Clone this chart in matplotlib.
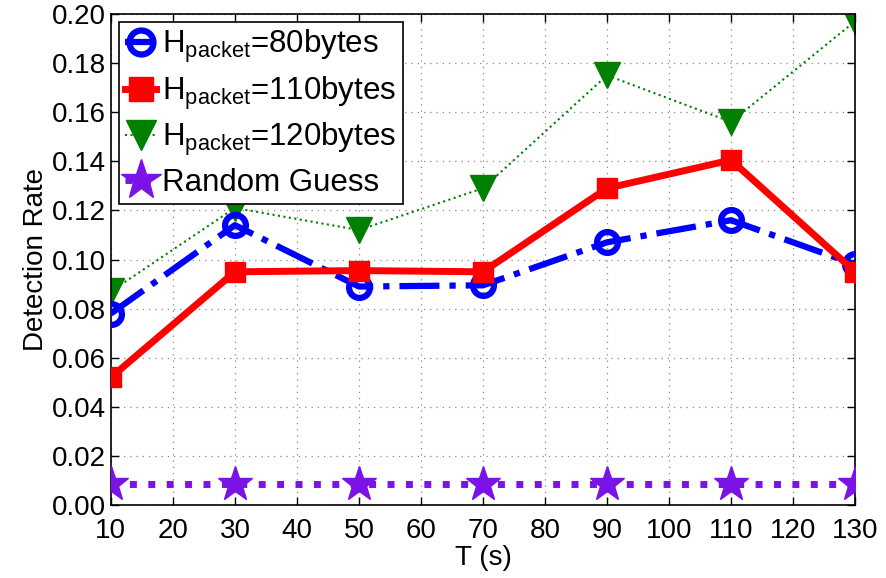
import matplotlib.pyplot as plt
import numpy as np

plt.rcParams['font.family'] = ['Liberation Sans', 'DejaVu Sans']
plt.rcParams['mathtext.fontset'] = 'custom'
plt.rcParams['mathtext.rm'] = 'Liberation Sans'
plt.rcParams['mathtext.it'] = 'Liberation Sans'

# Detection rate per observation window T
T = [10, 30, 50, 70, 90, 110, 130]
rate_80 = [0.078, 0.114, 0.089, 0.0895, 0.107, 0.116, 0.098]
rate_110 = [0.052, 0.095, 0.0955, 0.095, 0.129, 0.1405, 0.095]
rate_120 = [0.087, 0.121, 0.112, 0.129, 0.175, 0.156, 0.197]
random_guess = [0.0085] * 7

labels = [r'H$_{\mathrm{packet}}$=80bytes',
          r'H$_{\mathrm{packet}}$=110bytes',
          r'H$_{\mathrm{packet}}$=120bytes',
          'Random Guess']

fig, ax = plt.subplots(figsize=(8.87, 5.78), dpi=100)
fig.subplots_adjust(left=0.125, right=0.964, top=0.976, bottom=0.126)

ax.plot(T, rate_80, color='blue', linestyle='-.', linewidth=4.5,
        marker='o', markersize=15, markerfacecolor='none',
        markeredgewidth=4.5, label=labels[0], zorder=3)
ax.plot(T, rate_110, color='red', linestyle='-', linewidth=5,
        marker='s', markersize=15, label=labels[1], zorder=4)
ax.plot(T, rate_120, color='green', linestyle=':', linewidth=1.5,
        marker='v', markersize=19, markeredgecolor='green',
        label=labels[2], zorder=2)
ax.plot(T, random_guess, color='#7B12E6', linestyle=':', linewidth=5,
        marker='*', markersize=26, label=labels[3], zorder=3)

ax.set_xlim(10, 130)
ax.set_ylim(0, 0.2)
ax.set_xticks(np.arange(10, 131, 10))
ax.set_yticks(np.arange(0, 0.201, 0.02))
ax.yaxis.set_major_formatter(plt.FormatStrFormatter('%.2f'))
ax.tick_params(direction='in', top=True, right=True, labelsize=20,
               length=6, width=1)
ax.tick_params(axis='x', pad=9)
ax.grid(True, linestyle=(0, (1, 4)), color='#888888', linewidth=0.9)

ax.set_xlabel('T (s)', fontsize=20, labelpad=1)
ax.set_ylabel('Detection Rate', fontsize=20, labelpad=2)

leg = ax.legend(loc='upper left', fontsize=22.5, frameon=True, fancybox=False,
                edgecolor='black', framealpha=1, borderaxespad=0.25,
                handlelength=1.0, handletextpad=0.2, labelspacing=0.3,
                borderpad=0.2, markerscale=1.15)
leg.get_frame().set_linewidth(1.2)

for sp in ax.spines.values():
    sp.set_linewidth(1.2)

fig.savefig('out.png', dpi=100)
